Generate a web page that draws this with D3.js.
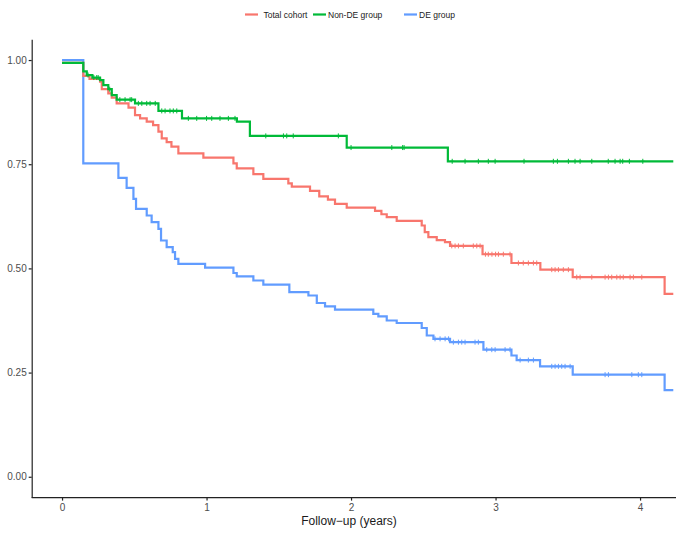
<!DOCTYPE html>
<meta charset="utf-8">
<style>
body { margin: 0; background: #fff; }
svg { font-family: "Liberation Sans", Arial, sans-serif; }
.tick text { fill: #4d4d4d; font-size: 10px; }
.axis path, .axis line { stroke: #222; stroke-width: 1.2px; }
</style>
<body>
<div id="chart"></div>
<script src="https://d3js.org/d3.v7.min.js"></script>
<script>

var groups = ["Total cohort", "Non-DE group", "DE group"];
var colors = ["#F8766D", "#00BA38", "#619CFF"];
var xTicks = [0, 1, 2, 3, 4];
var yTicks = [0, 0.25, 0.5, 0.75, 1];
var endTime = 4.23;

// step curves: [time, survival]
var totalSteps = [
  [0, 0.993], [0.147, 0.962], [0.19, 0.955], [0.263, 0.948], [0.275, 0.93],
  [0.32, 0.92], [0.344, 0.91], [0.378, 0.896], [0.46, 0.886], [0.505, 0.868],
  [0.54, 0.86], [0.586, 0.852], [0.63, 0.844], [0.667, 0.828], [0.69, 0.812],
  [0.724, 0.803], [0.757, 0.792], [0.805, 0.776], [0.978, 0.766], [1.186, 0.752],
  [1.209, 0.74], [1.324, 0.726], [1.393, 0.715], [1.566, 0.704], [1.59, 0.696],
  [1.716, 0.686], [1.78, 0.673], [1.84, 0.665], [1.889, 0.655], [1.97, 0.646],
  [2.166, 0.638], [2.21, 0.63], [2.247, 0.623], [2.316, 0.614], [2.489, 0.603],
  [2.51, 0.587], [2.535, 0.575], [2.593, 0.568], [2.65, 0.563], [2.685, 0.554],
  [2.91, 0.534], [3.11, 0.513], [3.31, 0.497], [3.534, 0.479], [4.17, 0.439]
];
var nonDeSteps = [
  [0, 0.993], [0.147, 0.973], [0.171, 0.964], [0.21, 0.958], [0.263, 0.952],
  [0.286, 0.94], [0.32, 0.93], [0.344, 0.916], [0.378, 0.905], [0.505, 0.896],
  [0.667, 0.878], [0.83, 0.86], [1.21, 0.852], [1.30, 0.818], [1.97, 0.79],
  [2.67, 0.757]
];
var deSteps = [
  [0, 1.0], [0.147, 0.752], [0.39, 0.717], [0.447, 0.693], [0.494, 0.667],
  [0.512, 0.643], [0.586, 0.627], [0.62, 0.611], [0.667, 0.595], [0.685, 0.567],
  [0.724, 0.551], [0.766, 0.539], [0.782, 0.523], [0.805, 0.511], [0.99, 0.502],
  [1.186, 0.489], [1.209, 0.481], [1.324, 0.471], [1.393, 0.461], [1.573, 0.443],
  [1.705, 0.435], [1.763, 0.417], [1.82, 0.409], [1.889, 0.401], [2.154, 0.391],
  [2.189, 0.385], [2.247, 0.375], [2.316, 0.369], [2.489, 0.357], [2.524, 0.339],
  [2.57, 0.331], [2.685, 0.323], [2.916, 0.305], [3.11, 0.291], [3.146, 0.28],
  [3.308, 0.265], [3.534, 0.245], [4.17, 0.208]
];

// censoring times
var totalCensor = [
  2.697, 2.72, 2.743, 2.777, 2.846, 2.87, 2.893, 2.93, 2.95, 2.975, 3.0, 3.02,
  3.054, 3.1, 3.158, 3.192, 3.227, 3.262, 3.285, 3.389, 3.412, 3.435, 3.469,
  3.504, 3.562, 3.585, 3.666, 3.758, 3.781, 3.804, 3.839, 3.862, 3.884, 3.931,
  3.954, 4.012
];
var nonDeCensor = [
  0.18, 0.22, 0.24, 0.25, 0.33, 0.40, 0.436, 0.471, 0.482, 0.528, 0.552, 0.586,
  0.609, 0.645, 0.69, 0.713, 0.747, 0.77, 0.794, 0.874, 0.932, 1.0, 1.036,
  1.093, 1.151, 1.197, 1.41, 1.532, 1.555, 1.60, 1.912, 2.0, 2.282, 2.357,
  2.367, 2.70, 2.789, 2.881, 2.95, 2.997, 3.197, 3.4, 3.428, 3.504, 3.55,
  3.585, 3.666, 3.78, 3.827, 3.862, 3.88, 3.926, 4.019
];
var deCensor = [
  2.581, 2.616, 2.651, 2.675, 2.708, 2.743, 2.766, 2.789, 2.858, 2.881, 2.939,
  2.974, 2.997, 3.066, 3.1, 3.17, 3.227, 3.262, 3.389, 3.412, 3.435, 3.458,
  3.481, 3.516, 3.758, 3.781, 3.943, 3.988, 4.012
];

var series = [
  { name: groups[0], color: colors[0], steps: totalSteps, censor: totalCensor },
  { name: groups[1], color: colors[1], steps: nonDeSteps, censor: nonDeCensor },
  { name: groups[2], color: colors[2], steps: deSteps, censor: deCensor }
];

var width = 676, height = 534;

var x = d3.scaleLinear().domain([-0.21, 4.41]).range([31.7, 699.3]);
var y = d3.scaleLinear().domain([-0.05, 1.05]).range([497.6, 39.2]);

var svg = d3.select("#chart").append("svg")
  .attr("width", width)
  .attr("height", height);

function survAt(steps, t) {
  var v = steps[0][1];
  steps.forEach(function (s) { if (s[0] <= t) v = s[1]; });
  return v;
}

var line = d3.line()
  .x(function (d) { return x(d[0]); })
  .y(function (d) { return y(d[1]); })
  .curve(d3.curveStepAfter);

// blue underneath, green on top
var drawOrder = [2, 0, 1];
drawOrder.forEach(function (i) {
  var s = series[i];
  var pts = s.steps.concat([[endTime, s.steps[s.steps.length - 1][1]]]);
  svg.append("path")
    .datum(pts)
    .attr("fill", "none")
    .attr("stroke", s.color)
    .attr("stroke-width", 2.2)
    .attr("d", line);

  svg.append("g")
    .selectAll("path")
    .data(s.censor)
    .enter().append("path")
      .attr("d", function (t) {
        var cx = x(t), cy = y(survAt(s.steps, t));
        return "M" + (cx - 2) + "," + cy + "H" + (cx + 2) +
               "M" + cx + "," + (cy - 2.5) + "V" + (cy + 2.5);
      })
      .attr("stroke", s.color)
      .attr("stroke-width", 1);
});

// axes
var xAxis = svg.append("g")
  .attr("class", "axis")
  .attr("transform", "translate(0," + y.range()[0] + ")")
  .call(d3.axisBottom(x).tickValues(xTicks).tickFormat(d3.format("d")).tickSize(3).tickSizeOuter(0));
xAxis.select(".domain").attr("d", "M" + x.range()[0] + ",0H" + width);
xAxis.selectAll(".tick text").attr("dy", "0.9em").attr("y", 4);

var yAxis = svg.append("g")
  .attr("class", "axis")
  .attr("transform", "translate(" + x.range()[0] + ",0)")
  .call(d3.axisLeft(y).tickValues(yTicks).tickFormat(d3.format(".2f")).tickSize(3).tickSizeOuter(0));
yAxis.selectAll(".tick text").attr("x", -5);

svg.append("text")
  .attr("x", 349)
  .attr("y", 525)
  .attr("text-anchor", "middle")
  .attr("font-size", 12)
  .attr("fill", "#1a1a1a")
  .text("Follow\u2212up (years)");

// legend
var legendPos = [[245, 263.5], [313, 328], [404, 419]];
var legend = svg.append("g").selectAll("g")
  .data(series)
  .enter().append("g");
legend.append("line")
  .attr("x1", function (d, i) { return legendPos[i][0]; })
  .attr("x2", function (d, i) { return legendPos[i][0] + 13; })
  .attr("y1", 14.5).attr("y2", 14.5)
  .attr("stroke", function (d) { return d.color; })
  .attr("stroke-width", 2.2);
legend.append("text")
  .attr("x", function (d, i) { return legendPos[i][1]; })
  .attr("y", 17.5)
  .attr("font-size", 8.5)
  .attr("fill", "#1a1a1a")
  .text(function (d) { return d.name; });

</script>
</body>
